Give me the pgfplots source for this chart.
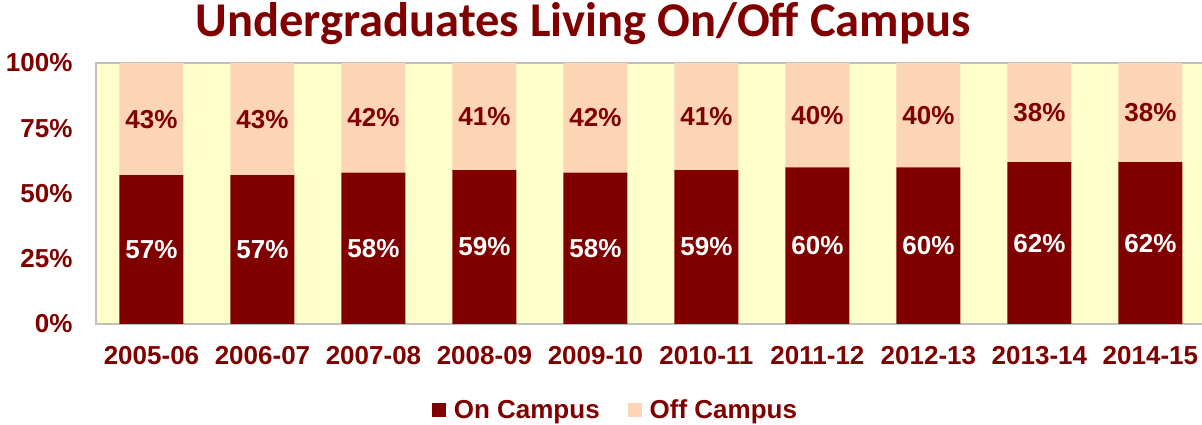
\documentclass[border=0pt]{standalone}
\usepackage{pgfplots}
\pgfplotsset{compat=1.18}
\usepackage{pgfplotstable}
\usepackage{fontspec}
\setmainfont{Liberation Sans}
\newfontfamily\titlefont{Carlito}
\definecolor{onc}{HTML}{800000}
\definecolor{offc}{HTML}{FCD5B5}
\definecolor{bgc}{HTML}{FFFFCC}
\definecolor{txt}{HTML}{800000}
\definecolor{framec}{HTML}{BFBFBF}
\pgfplotstableread{
x on off
0 57 43
1 57 43
2 58 42
3 59 41
4 58 42
5 59 41
6 60 40
7 60 40
8 62 38
9 62 38
}\data
\begin{document}
\begin{tikzpicture}
\useasboundingbox (-96pt,-101pt) rectangle (1106pt,324pt);
\begin{axis}[
  at={(0pt,0pt)}, anchor=south west,
  width=1110pt, height=261pt, scale only axis,
  xmin=-0.5, xmax=9.5, ymin=0, ymax=100,
  ybar stacked, bar width=64pt,
  axis background/.style={fill=bgc},
  axis line style={framec, line width=1.5pt},
  xtick={0,...,9},
  xticklabels={2005-06,2006-07,2007-08,2008-09,2009-10,2010-11,2011-12,2012-13,2013-14,2014-15},
  ytick={0,25,50,75,100},
  yticklabels={0\%,25\%,50\%,75\%,100\%},
  major tick length=0pt,
  tick label style={font=\fontsize{26}{30}\selectfont\bfseries, text=txt},
  xticklabel style={yshift=-19pt},
  yticklabel style={xshift=-20pt},
  /pgf/number format/assume math mode=true,
  nodes near coords={\pgfmathprintnumber{\pgfplotspointmeta}\%},
  every node near coord/.append style={font=\fontsize{26}{30}\selectfont\bfseries, anchor=center},
  legend style={at={(0.468,-0.33)}, anchor=center, draw=none, fill=none,
    legend columns=2, font=\fontsize{26}{30}\selectfont\bfseries, text=txt,
    /tikz/every even column/.append style={column sep=26pt}},
  legend image code/.code={\fill[#1] (0pt,-7pt) rectangle (14pt,7pt); \path (20pt,0pt);},
]
\addplot[fill=onc, draw=none, every node near coord/.append style={text=white}] table[x=x, y=on, meta=on] {\data};
\addplot[fill=offc, draw=none, every node near coord/.append style={text=txt}] table[x=x, y=off, meta=off] {\data};
\legend{On Campus, Off Campus}
\end{axis}
\node[font=\titlefont\fontsize{48.5}{52}\selectfont\bfseries, text=txt] at (487pt,300pt) {Undergraduates Living On/Off Campus};
\end{tikzpicture}
\end{document}
